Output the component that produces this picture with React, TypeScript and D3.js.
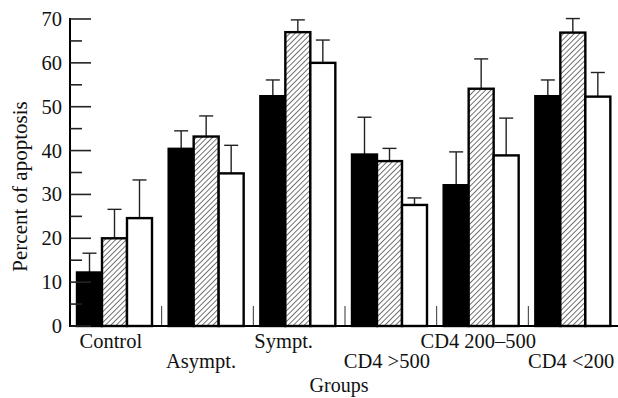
import React from "react";
import * as d3 from "d3";

const groups = ["Control", "Asympt.", "Sympt.", "CD4 >500", "CD4 200–500", "CD4 <200"];
const series = ["black", "hatched", "white"];
const blackVals = [12.2, 40.4, 52.4, 39.1, 32.1, 52.4];
const blackErr = [16.6, 44.5, 56.1, 47.6, 39.7, 56.1];
const hatchVals = [20.0, 43.2, 67.0, 37.6, 54.1, 66.9];
const hatchErr = [26.6, 47.9, 69.8, 40.5, 60.9, 70.1];
const whiteVals = [24.6, 34.8, 60.0, 27.6, 38.9, 52.3];
const whiteErr = [33.3, 41.2, 65.2, 29.2, 47.4, 57.8];
const yTicks = [0, 10, 20, 30, 40, 50, 60, 70];
const labelRow = [0, 1, 0, 1, 0, 1];
const labelShift = [-5, -6.5, -15.5, -4, -4.2, -3];

const W = 618;
const H = 398;
const FONT = "'Liberation Serif', 'Times New Roman', serif";

export default function App() {
  const x = d3.scaleBand<string>().domain(groups).range([70, 620]).paddingInner(0).paddingOuter(0);
  const xs = d3.scaleBand<string>().domain(series).range([7, 82]);
  const y = d3.scaleLinear().domain([0, 70]).range([326, 19]);
  const vals = [blackVals, hatchVals, whiteVals];
  const errs = [blackErr, hatchErr, whiteErr];
  const fills = ["#000", "url(#hatch)", "#fff"];
  const minor = d3.range(5, 70, 10);

  return (
    <svg width={W} height={H} style={{ position: "absolute", left: 0, top: 0 }} fontFamily={FONT}>
      <defs>
        <pattern id="hatch" width={3.8} height={3.8} patternUnits="userSpaceOnUse" patternTransform="rotate(45)">
          <rect width={3.8} height={3.8} fill="#fff" />
          <line x1={0} y1={0} x2={0} y2={3.8} stroke="#000" strokeWidth={1.1} />
        </pattern>
      </defs>
      <rect width={W} height={H} fill="#fff" />
      {groups.map((g, gi) =>
        series.map((s, si) => {
          const bx = (x(g) as number) + (xs(s) as number);
          const bw = xs.bandwidth();
          const top = y(vals[si][gi]);
          const cx = bx + bw / 2;
          const ey = y(errs[si][gi]);
          return (
            <g key={g + s}>
              <line x1={cx} x2={cx} y1={top} y2={ey} stroke="#222" strokeWidth={1.4} />
              <line x1={cx - 7} x2={cx + 7} y1={ey} y2={ey} stroke="#222" strokeWidth={1.4} />
              <rect x={bx} y={top} width={bw} height={y(0) - top} fill={fills[si]} stroke="#000" strokeWidth={2.4} />
            </g>
          );
        })
      )}
      {groups.slice(1).map((g) => (
        <line key={"t" + g} x1={x(g) as number} x2={x(g) as number} y1={y(0)} y2={y(0) - 20} stroke="#333" strokeWidth={1} />
      ))}
      <line x1={70} x2={70} y1={y(70) - 1} y2={y(0) + 1} stroke="#000" strokeWidth={2} />
      <line x1={69} x2={618} y1={y(0)} y2={y(0)} stroke="#000" strokeWidth={2} />
      {yTicks.map((t) => (
        <g key={"y" + t}>
          <line x1={70} x2={91} y1={y(t)} y2={y(t)} stroke="#222" strokeWidth={1.6} />
          <text x={62} y={y(t)} dy="0.34em" textAnchor="end" fontSize={20.5} fill="#111">
            {t}
          </text>
        </g>
      ))}
      {minor.map((t) => (
        <line key={"m" + t} x1={70} x2={82} y1={y(t)} y2={y(t)} stroke="#222" strokeWidth={1.6} />
      ))}
      {groups.map((g, gi) => (
        <text
          key={"l" + g}
          x={(x(g) as number) + x.bandwidth() / 2 + labelShift[gi]}
          y={labelRow[gi] === 0 ? 348.3 : 368}
          textAnchor="middle"
          fontSize={20.5}
          fill="#111"
        >
          {g}
        </text>
      ))}
      <text x={339} y={392} textAnchor="middle" fontSize={20} fill="#111">
        Groups
      </text>
      <text transform="translate(27,186.5) rotate(-90)" textAnchor="middle" fontSize={21} fill="#111">
        Percent of apoptosis
      </text>
    </svg>
  );
}
